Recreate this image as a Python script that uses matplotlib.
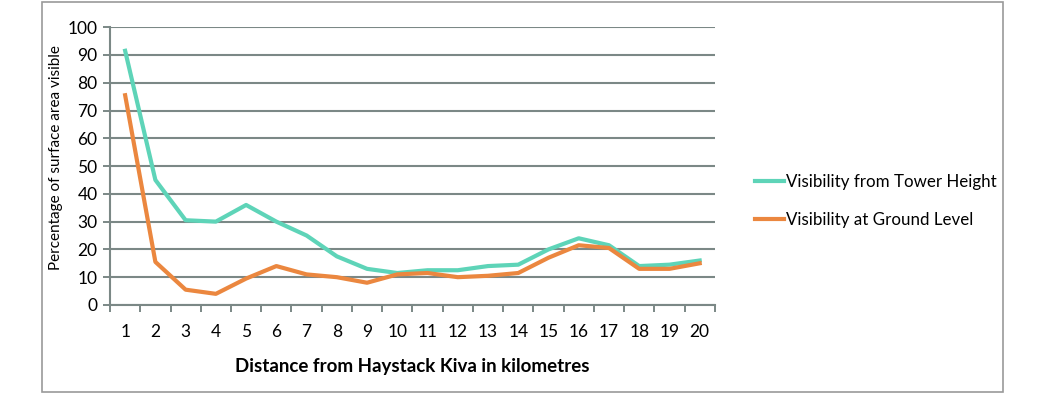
import matplotlib
matplotlib.use('Agg')
import matplotlib.pyplot as plt
from matplotlib.patches import Rectangle

# distances in km
distance = list(range(1, 21))
# percentage visible from tower height
tower = [91.5, 45, 30.5, 30, 36, 30, 25, 17.5, 13, 11.5,
         12.5, 12.5, 14, 14.5, 20, 24, 21.5, 14, 14.5, 16]
# percentage visible at ground level
ground = [75.5, 15.5, 5.5, 4, 9.5, 14, 11, 10, 8, 11,
          11.5, 10, 10.5, 11.5, 17, 21.5, 20.5, 13, 13, 15]

teal = '#5ed4b8'
orange = '#eb873f'
grey = '#7b8886'

plt.rcParams['font.family'] = ['Lato', 'DejaVu Sans']

fig = plt.figure(figsize=(10.61, 3.94), dpi=100)
ax = fig.add_axes([0.1037, 0.226, 0.570, 0.705])

ax.plot(distance, tower, color=teal, lw=3, label='Visibility from Tower Height')
ax.plot(distance, ground, color=orange, lw=3, label='Visibility at Ground Level')

ax.set_xlim(0.5, 20.5)
ax.set_ylim(0, 100)
ax.set_yticks(range(0, 101, 10))
ax.yaxis.grid(True, color=grey, lw=1.5)
ax.set_axisbelow(True)

# tick marks sit between categories, labels at the centres
ax.set_xticks([i + 0.5 for i in range(0, 21)])
ax.set_xticklabels([])
ax.set_xticks(distance, minor=True)
ax.set_xticklabels([str(d) for d in distance], minor=True, fontsize=12.5)
ax.tick_params(axis='x', which='major', length=5, width=1.4, color=grey, direction='out')
ax.tick_params(axis='x', which='minor', length=0, pad=14)
ax.tick_params(axis='y', length=5, width=1.4, color=grey, labelsize=12.5, pad=4)

for s in ['top', 'right']:
    ax.spines[s].set_visible(False)
for s in ['left', 'bottom']:
    ax.spines[s].set_color(grey)
    ax.spines[s].set_linewidth(1.5)

ax.set_ylabel('Percentage of surface area visible', fontsize=11)
ax.yaxis.set_label_coords(-0.077, 0.53)
ax.set_xlabel('Distance from Haystack Kiva in kilometres', fontsize=13.5,
              fontweight='bold', labelpad=13)

fig.legend(loc='center left', bbox_to_anchor=(0.697, 0.49), frameon=False,
           fontsize=12.2, handlelength=1.75, handletextpad=0.1, labelspacing=1.3)

fig.patches.append(Rectangle((0.04, 0.005), 0.905, 0.99, transform=fig.transFigure,
                             fill=False, edgecolor='#9a9a9a', lw=1.2))

fig.savefig('out.png', dpi=100)
